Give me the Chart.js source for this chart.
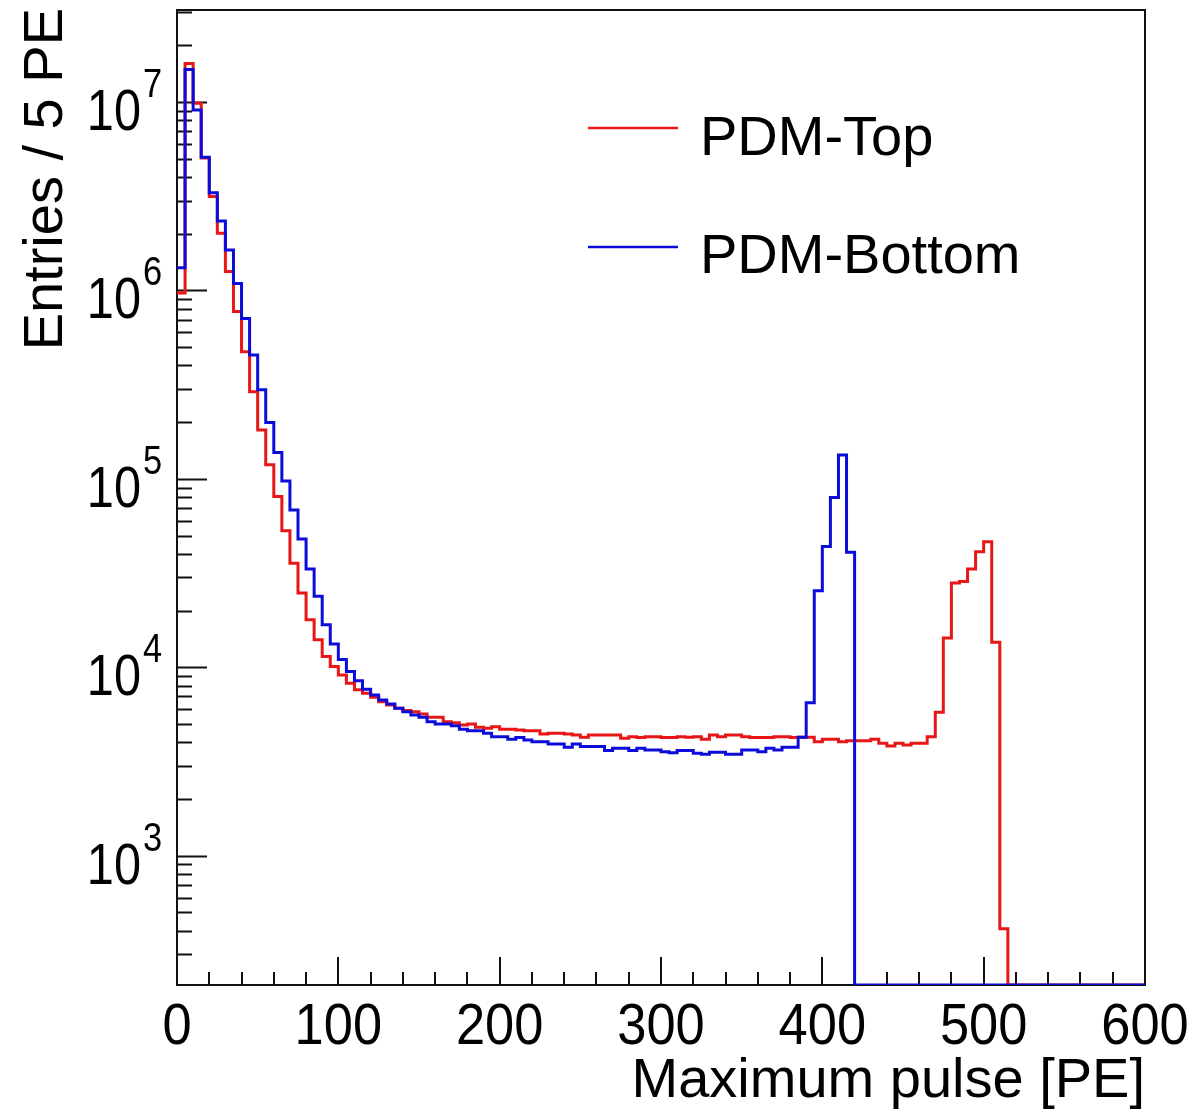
<!DOCTYPE html>
<html><head><meta charset="utf-8">
<script src="https://cdn.jsdelivr.net/npm/chart.js@4"></script>
<style>html,body{margin:0;padding:0;background:#fff;} canvas{display:block;}</style>
</head><body>
<canvas id="c" width="1196" height="1110"></canvas>
<script>
// ---------------- data ----------------
const BIN_WIDTH = 5;            // PE per bin
const X_MIN = 0, X_MAX = 600;
const Y_MIN = 206, Y_MAX = 3.08e7;
const SERIES_NAMES = ['PDM-Top', 'PDM-Bottom'];
// entries per 5 PE bin, bins 0-5, 5-10, ... 595-600
const PDM_TOP = [
  9.7e5, 1.6e7, 9.85e6, 5.05e6, 3.15e6, 2.01e6, 1.26e6, 7.73e5, 4.73e5, 2.9e5,
  1.82e5, 1.19e5, 8.06e4, 5.3e4, 3.57e4, 2.48e4, 1.79e4, 1.40e4, 1.14e4, 1.01e4,
  9100, 8230, 7590, 7280, 6930, 6570, 6310, 6060, 5890, 5810,
  5650, 5430, 5430, 5140, 5080, 4940, 5000, 4805, 4745, 4840,
  4690, 4690, 4650, 4610, 4610, 4430, 4470, 4470, 4430, 4375,
  4256, 4375, 4375, 4375, 4375, 4200, 4285, 4235, 4285, 4285,
  4235, 4235, 4285, 4256, 4285, 4150, 4375, 4285, 4375, 4375,
  4285, 4235, 4235, 4235, 4285, 4285, 4235, 4256, 4256, 4030,
  4150, 4150, 4030, 4080, 4080, 4080, 4150, 3950, 3820, 3950,
  3870, 3950, 3950, 4285, 5780, 14300, 28000, 28500, 33200, 41100,
  46400, 13600, 410, 0, 0, 0, 0, 0, 0, 0,
  0, 0, 0, 0, 0, 0, 0, 0, 0, 0
];
const PDM_BOTTOM = [
  1.32e6, 1.49e7, 9.07e6, 5.09e6, 3.3e6, 2.34e6, 1.64e6, 1.09e6, 7.1e5, 4.55e5,
  2.97e5, 1.99e5, 1.38e5, 9.75e4, 6.84e4, 4.8e4, 3.32e4, 2.38e4, 1.68e4, 1.33e4,
  1.1e4, 9500, 8490, 7640, 7130, 6710, 6390, 6060, 5810, 5580,
  5430, 5140, 5000, 5000, 4890, 4690, 4610, 4610, 4470, 4285,
  4285, 4150, 4235, 4110, 4030, 4030, 3920, 3920, 3770, 3920,
  3795, 3795, 3795, 3615, 3720, 3720, 3615, 3720, 3640, 3640,
  3565, 3525, 3615, 3615, 3500, 3455, 3540, 3540, 3455, 3455,
  3640, 3640, 3565, 3720, 3640, 3770, 3770, 4256, 6490, 25500,
  43800, 79600, 134000, 40800, 0, 0, 0, 0, 0, 0,
  0, 0, 0, 0, 0, 0, 0, 0, 0, 0,
  0, 0, 0, 0, 0, 0, 0, 0, 0, 0,
  0, 0, 0, 0, 0, 0, 0, 0, 0, 0
];
const X_TICK_VALUES = [0, 100, 200, 300, 400, 500, 600];
const X_TICK_LABELS = ['0', '100', '200', '300', '400', '500', '600'];
const X_MINOR_STEP = 20;
const Y_DECADE_EXPONENTS = [3, 4, 5, 6, 7];
const Y_DECADE_BASE = '10';
const X_TITLE = 'Maximum pulse [PE]';
const Y_TITLE = 'Entries / 5 PE';

// ---------------- style ----------------
const RED = 'rgb(232,22,22)';
const BLUE = 'rgb(12,12,218)';
const FONT = '"Liberation Sans", Arial, Helvetica, sans-serif';

function histPoints(vals) {
  const pts = vals.map((v, i) => ({ x: X_MIN + i * BIN_WIDTH, y: Math.max(v, Y_MIN) }));
  pts.push({ x: X_MIN + vals.length * BIN_WIDTH, y: Math.max(vals[vals.length - 1], Y_MIN) });
  return pts;
}

function squeezedText(ctx, text, x, y, size, align, sx) {
  ctx.save();
  ctx.translate(x, y);
  ctx.scale(sx, 1);
  ctx.font = size + 'px ' + FONT;
  ctx.textAlign = align;
  ctx.fillText(text, 0, 0);
  ctx.restore();
}

const rootPlugin = {
  id: 'rootPlugin',
  beforeDatasetsDraw(chart) {
    const { ctx, chartArea: a, scales: { x, y } } = chart;
    ctx.save();
    ctx.strokeStyle = '#111';
    ctx.lineWidth = 2;
    ctx.strokeRect(a.left, a.top, a.right - a.left, a.bottom - a.top);
    ctx.beginPath();
    for (let v = X_MIN; v <= X_MAX; v += X_MINOR_STEP) {
      const px = Math.round(x.getPixelForValue(v));
      const len = X_TICK_VALUES.includes(v) ? 28 : 13;
      ctx.moveTo(px, a.bottom); ctx.lineTo(px, a.bottom - len);
    }
    for (let e = 2; e <= 7; e++) {
      for (let m = 1; m <= 9; m++) {
        const v = m * Math.pow(10, e);
        if (v < Y_MIN || v > Y_MAX) continue;
        const py = Math.round(y.getPixelForValue(v)) + 0.5;
        const len = m === 1 ? 30 : 15;
        ctx.moveTo(a.left, py); ctx.lineTo(a.left + len, py);
      }
    }
    ctx.stroke();

    ctx.fillStyle = '#000';
    ctx.textBaseline = 'alphabetic';
    // x labels
    X_TICK_VALUES.forEach((v, i) => {
      squeezedText(ctx, X_TICK_LABELS[i], x.getPixelForValue(v), a.bottom + 59, 57, 'center', 0.92);
    });
    // y labels 10^n
    Y_DECADE_EXPONENTS.forEach(e => {
      const py = y.getPixelForValue(Math.pow(10, e));
      squeezedText(ctx, Y_DECADE_BASE, 141, py + 28, 58, 'right', 0.84);
      squeezedText(ctx, String(e), 143, py - 5, 40, 'left', 0.86);
    });
    // axis titles
    ctx.font = '56px ' + FONT;
    ctx.textAlign = 'right';
    ctx.fillText(X_TITLE, a.right, 1097);
    ctx.save();
    ctx.translate(62, a.top - 2);
    ctx.rotate(-Math.PI / 2);
    ctx.textAlign = 'right';
    ctx.fillText(Y_TITLE, 0, 0);
    ctx.restore();
    ctx.restore();
  },
  afterDatasetsDraw(chart) {
    const ctx = chart.ctx;
    ctx.save();
    const items = [
      { name: SERIES_NAMES[0], color: RED, ly: 128, ty: 155 },
      { name: SERIES_NAMES[1], color: BLUE, ly: 247, ty: 273 }
    ];
    items.forEach(it => {
      ctx.strokeStyle = it.color;
      ctx.lineWidth = 2.5;
      ctx.beginPath(); ctx.moveTo(588, it.ly); ctx.lineTo(678, it.ly); ctx.stroke();
      ctx.fillStyle = '#000';
      ctx.font = '56px ' + FONT;
      ctx.textAlign = 'left';
      ctx.textBaseline = 'alphabetic';
      ctx.fillText(it.name, 700, it.ty);
    });
    ctx.restore();
  }
};

new Chart(document.getElementById('c'), {
  type: 'line',
  data: {
    datasets: [
      { label: SERIES_NAMES[1], data: histPoints(PDM_BOTTOM), borderColor: BLUE, order: 0 },
      { label: SERIES_NAMES[0], data: histPoints(PDM_TOP), borderColor: RED, order: 1 }
    ]
  },
  options: {
    responsive: false,
    animation: false,
    devicePixelRatio: 1,
    layout: { padding: { left: 177, right: 51, top: 10, bottom: 125 } },
    elements: {
      line: { stepped: 'before', borderWidth: 3, tension: 0, fill: false },
      point: { radius: 0, hoverRadius: 0 }
    },
    scales: {
      x: { type: 'linear', min: X_MIN, max: X_MAX, display: false },
      y: { type: 'logarithmic', min: Y_MIN, max: Y_MAX, display: false }
    },
    plugins: { legend: { display: false }, tooltip: { enabled: false } }
  },
  plugins: [rootPlugin]
});
</script>
</body></html>
